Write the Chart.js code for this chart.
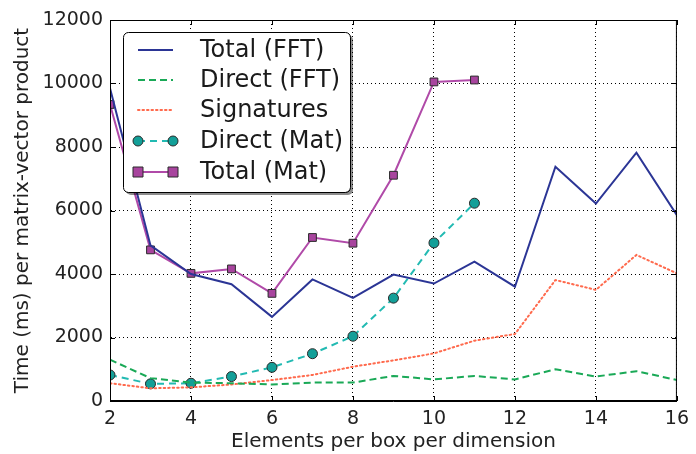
<!DOCTYPE html>
<html>
<head>
<meta charset="utf-8">
<script src="https://cdn.jsdelivr.net/npm/chart.js@4/dist/chart.umd.min.js"></script>
<style>
  html, body { margin: 0; padding: 0; background: #fff; }
  #wrap { width: 696px; height: 454px; position: relative; }
</style>
</head>
<body>
<div id="wrap"><canvas id="c" width="696" height="454"></canvas></div>
<script>
// Elements per box per dimension
const elemsFFT = [2, 3, 4, 5, 6, 7, 8, 9, 10, 11, 12, 13, 14, 15, 16];
const elemsMat = [2, 3, 4, 5, 6, 7, 8, 9, 10, 11];

// Timings (ms) per matrix-vector product
const totalFFT    = [9850, 4900, 4000, 3680, 2650, 3830, 3250, 3980, 3700, 4390, 3600, 7380, 6220, 7820, 5850];
const directFFT   = [1300, 720, 580, 560, 520, 580, 580, 790, 680, 790, 680, 1000, 770, 940, 660];
const signatures  = [560, 400, 430, 520, 660, 820, 1080, 1280, 1500, 1900, 2110, 3810, 3500, 4600, 4020];
const directMat   = [820, 540, 560, 770, 1060, 1490, 2040, 3240, 4980, 6230];
const totalMat    = [9340, 4760, 4020, 4160, 3390, 5150, 4970, 7110, 10050, 10110];

const xTicks = [2, 4, 6, 8, 10, 12, 14, 16];
const yTicks = [0, 2000, 4000, 6000, 8000, 10000, 12000];

const FONT = "'DejaVu Sans', sans-serif";
const pts = (xs, ys) => xs.map((x, i) => ({ x: x, y: ys[i] }));

const datasets = [
  { label: 'Total (FFT)', data: pts(elemsFFT, totalFFT), borderColor: '#2b3595', borderWidth: 2,
    pointRadius: 0, fill: false, tension: 0 },
  { label: 'Direct (FFT)', data: pts(elemsFFT, directFFT), borderColor: '#1aa957', borderWidth: 2,
    borderDash: [7, 4], pointRadius: 0, fill: false, tension: 0 },
  { label: 'Signatures', data: pts(elemsFFT, signatures), borderColor: '#ff6a4d', borderWidth: 2,
    borderDash: [1.5, 3], borderCapStyle: 'round', pointRadius: 0, fill: false, tension: 0 },
  { label: 'Direct (Mat)', data: pts(elemsMat, directMat), borderColor: '#22bab2', borderWidth: 2,
    borderDash: [7, 5], pointStyle: 'circle', pointRadius: 5, pointBackgroundColor: '#139f98',
    pointBorderColor: '#2a2a2a', pointBorderWidth: 1, fill: false, tension: 0 },
  { label: 'Total (Mat)', data: pts(elemsMat, totalMat), borderColor: '#b04aa8', borderWidth: 2,
    pointStyle: 'rect', pointRadius: 5.5, pointBackgroundColor: '#a8449e',
    pointBorderColor: '#2a2a2a', pointBorderWidth: 1, fill: false, tension: 0 }
];

// Frame, inward ticks on all four sides, and the boxed legend
const framePlugin = {
  id: 'frame',
  afterDraw(chart) {
    const ctx = chart.ctx;
    const a = chart.chartArea;
    const xs = chart.scales.x, ys = chart.scales.y;
    ctx.save();
    ctx.strokeStyle = '#000';
    ctx.lineWidth = 1;
    ctx.setLineDash([]);
    ctx.strokeRect(a.left + 0.5, a.top + 0.5, a.right - a.left - 1, a.bottom - a.top - 1);
    const tl = 5;
    ctx.beginPath();
    xTicks.forEach(v => {
      const px = Math.round(xs.getPixelForValue(v)) + 0.5;
      ctx.moveTo(px, a.bottom); ctx.lineTo(px, a.bottom - tl);
      ctx.moveTo(px, a.top); ctx.lineTo(px, a.top + tl);
    });
    yTicks.forEach(v => {
      const py = Math.round(ys.getPixelForValue(v)) + 0.5;
      ctx.moveTo(a.left, py); ctx.lineTo(a.left + tl, py);
      ctx.moveTo(a.right, py); ctx.lineTo(a.right - tl, py);
    });
    ctx.stroke();

    // legend box
    const bx = 123, by = 32, bw = 227, bh = 160, r = 5;
    const rr = (x, y, w, h) => {
      ctx.beginPath();
      ctx.moveTo(x + r, y);
      ctx.arcTo(x + w, y, x + w, y + h, r);
      ctx.arcTo(x + w, y + h, x, y + h, r);
      ctx.arcTo(x, y + h, x, y, r);
      ctx.arcTo(x, y, x + w, y, r);
      ctx.closePath();
    };
    ctx.fillStyle = 'rgba(0,0,0,0.45)';
    rr(bx + 3, by + 3, bw, bh); ctx.fill();
    ctx.fillStyle = '#fff';
    rr(bx, by, bw, bh); ctx.fill();
    ctx.strokeStyle = '#000'; ctx.lineWidth = 1;
    rr(bx + 0.5, by + 0.5, bw, bh); ctx.stroke();

    const x0 = 138, x1 = 173, tx = 200;
    const rowY = [50, 80, 110, 141, 172];
    chart.data.datasets.forEach((ds, i) => {
      const y = rowY[i];
      ctx.save();
      ctx.strokeStyle = ds.borderColor;
      ctx.lineWidth = ds.borderWidth;
      ctx.setLineDash(ds.borderDash || []);
      ctx.lineCap = ds.borderCapStyle || 'butt';
      ctx.beginPath();
      ctx.moveTo(x0, y); ctx.lineTo(x1, y);
      ctx.stroke();
      ctx.setLineDash([]);
      if (ds.pointRadius > 0) {
        ctx.fillStyle = ds.pointBackgroundColor;
        ctx.strokeStyle = ds.pointBorderColor;
        ctx.lineWidth = 1;
        [x0, x1].forEach(px => {
          ctx.beginPath();
          if (ds.pointStyle === 'rect') {
            ctx.rect(px - 5, y - 5, 10, 10);
          } else {
            ctx.arc(px, y, 5, 0, Math.PI * 2);
          }
          ctx.fill(); ctx.stroke();
        });
      }
      ctx.restore();
      ctx.fillStyle = '#1a1a1a';
      ctx.font = '24px ' + FONT;
      ctx.textBaseline = 'middle';
      ctx.textAlign = 'left';
      ctx.fillText(ds.label, tx, y + 1);
    });
    ctx.restore();
  }
};

new Chart(document.getElementById('c'), {
  type: 'line',
  data: { datasets: datasets },
  plugins: [framePlugin],
  options: {
    responsive: false,
    animation: false,
    layout: { padding: { top: 20, right: 15, left: 0, bottom: 0 } },
    plugins: { legend: { display: false }, tooltip: { enabled: false } },
    scales: {
      x: {
        type: 'linear', min: 2, max: 16,
        afterBuildTicks: s => { s.ticks = xTicks.map(v => ({ value: v })); },
        afterFit: s => { s.height = 53; },
        ticks: { color: '#222', font: { family: FONT, size: 19 }, padding: 7, maxRotation: 0,
                 callback: v => String(v) },
        grid: { color: '#000', lineWidth: 1, tickLength: 0, drawTicks: false },
        border: { display: true, color: '#000', dash: [1, 3] },
        title: { display: true, text: 'Elements per box per dimension', color: '#222',
                 font: { family: FONT, size: 20 }, padding: { top: 0, bottom: 0 } }
      },
      y: {
        type: 'linear', min: 0, max: 12000,
        afterBuildTicks: s => { s.ticks = yTicks.map(v => ({ value: v })); },
        afterFit: s => { s.width = 110; },
        ticks: { color: '#222', font: { family: FONT, size: 19 }, padding: 7,
                 callback: v => String(v) },
        grid: { color: '#000', lineWidth: 1, tickLength: 0, drawTicks: false },
        border: { display: true, color: '#000', dash: [1, 3] },
        title: { display: true, text: 'Time (ms) per matrix-vector product', color: '#222',
                 font: { family: FONT, size: 20 }, padding: { top: 11, bottom: 0 } }
      }
    }
  }
});
</script>
</body>
</html>
